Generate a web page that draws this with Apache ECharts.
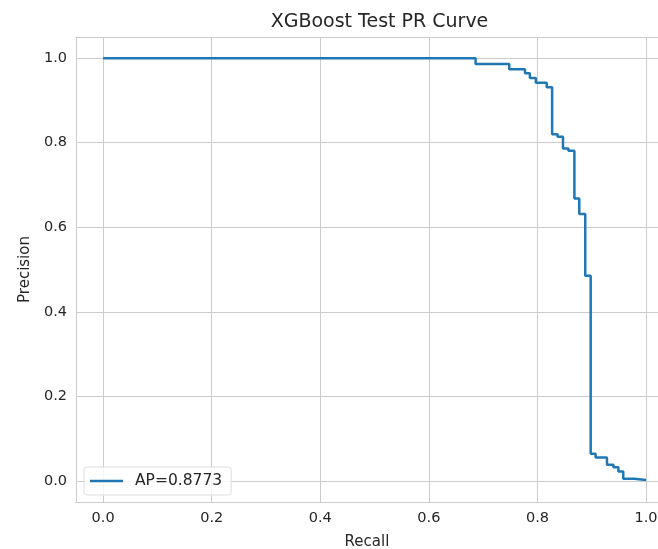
<!DOCTYPE html>
<html>
<head>
<meta charset="utf-8">
<script src="https://cdn.jsdelivr.net/npm/echarts@6/dist/echarts.min.js"></script>
<style>html,body{margin:0;padding:0;background:#fff;}#c{width:658px;height:549px;}</style>
</head>
<body>
<div id="c"></div>
<script>
const title = 'XGBoost Test PR Curve';
const seriesName = 'AP=0.8773';
const recall =    [0.0, 0.686, 0.748, 0.777, 0.786, 0.797, 0.817, 0.827, 0.837, 0.847, 0.857, 0.868, 0.877, 0.888, 0.898, 0.907, 0.928, 0.940, 0.949, 0.958, 0.978, 1.0];
const precision = [1.0, 0.986, 0.974, 0.964, 0.953, 0.942, 0.931, 0.820, 0.814, 0.786, 0.781, 0.668, 0.631, 0.485, 0.064, 0.055, 0.038, 0.032, 0.022, 0.005, 0.002, 0.002];
const xTicks = [0, 0.2, 0.4, 0.6, 0.8, 1.0];
const yTicks = [0, 0.2, 0.4, 0.6, 0.8, 1.0];

const data = recall.map((r, i) => [r, precision[i]]);
const font = 'DejaVu Sans';
const textColor = '#262626';
const gridColor = '#cccccc';
const xMin = -0.05, xMax = 1.022;

const chart = echarts.init(document.getElementById('c'), null, {renderer: 'canvas'});
chart.setOption({
  animation: false,
  backgroundColor: '#ffffff',
  title: {
    text: title, left: 374.5, top: 8, textAlign: 'center',
    textStyle: {fontFamily: font, fontSize: 19, fontWeight: 'normal', color: textColor}
  },
  grid: {left: 76, right: 0, top: 37, bottom: 47, show: false, containLabel: false, outerBoundsMode: 'none'},
  legend: {
    left: 84, top: 467, orient: 'vertical',
    padding: [6, 9, 6, 6],
    itemWidth: 33, itemHeight: 2.5, itemGap: 0,
    backgroundColor: 'rgba(255,255,255,0.8)',
    borderColor: '#dddddd', borderWidth: 1, borderRadius: 3,
    icon: 'rect',
    textStyle: {fontFamily: font, fontSize: 15.5, color: textColor, padding: [0, 0, 0, 7]},
    data: [{name: seriesName, icon: 'rect'}]
  },
  xAxis: [{
    type: 'value', min: xMin, max: xMax, position: 'bottom',
    name: 'Recall', nameLocation: 'middle', nameGap: 33,
    nameTextStyle: {fontFamily: font, fontSize: 15, color: textColor},
    axisLine: {show: true, onZero: false, lineStyle: {color: gridColor, width: 1}},
    axisTick: {show: false, customValues: xTicks},
    axisLabel: {customValues: xTicks, formatter: v => v.toFixed(1), fontFamily: font, fontSize: 14.5, color: textColor, margin: 9},
    splitLine: {show: true, lineStyle: {color: gridColor, width: 1}}
  }, {
    type: 'value', min: xMin, max: xMax, position: 'top',
    axisLine: {show: true, onZero: false, lineStyle: {color: gridColor, width: 1}},
    axisTick: {show: false}, axisLabel: {show: false}, splitLine: {show: false}
  }],
  yAxis: {
    type: 'value', min: -0.05, max: 1.05,
    name: 'Precision', nameLocation: 'middle', nameGap: 42,
    nameTextStyle: {fontFamily: font, fontSize: 15, color: textColor},
    axisLine: {show: true, onZero: false, lineStyle: {color: gridColor, width: 1}},
    axisTick: {show: false, customValues: yTicks},
    axisLabel: {customValues: yTicks, formatter: v => v.toFixed(1), fontFamily: font, fontSize: 14.5, color: textColor, margin: 9},
    splitLine: {show: true, lineStyle: {color: gridColor, width: 1}}
  },
  series: [{
    name: seriesName, type: 'line', step: 'end', data: data, xAxisIndex: 0,
    showSymbol: false, symbol: 'none',
    lineStyle: {color: '#1f77b4', width: 2.5},
    itemStyle: {color: '#1f77b4'}
  }]
});
</script>
</body>
</html>
